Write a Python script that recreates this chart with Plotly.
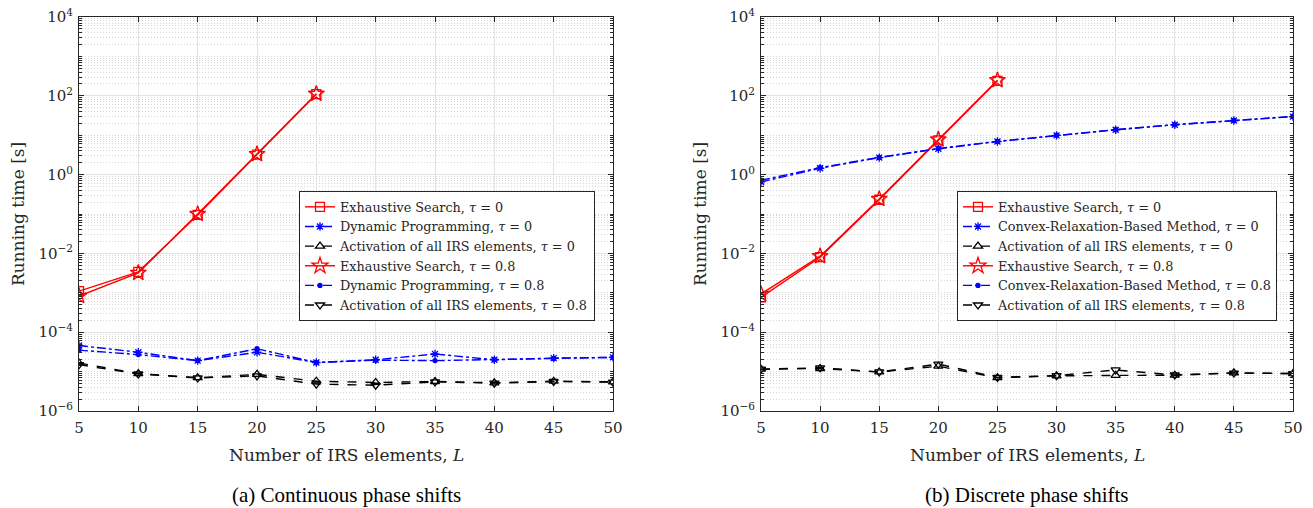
import plotly.graph_objects as go

L = [5, 10, 15, 20, 25, 30, 35, 40, 45, 50]
L_es = [5, 10, 15, 20, 25]

# (a) Continuous phase shifts
a_es_t0 = [1.1e-3, 3.4e-3, 0.095, 3.2, 110]
a_es_t08 = [8.3e-4, 3.2e-3, 0.10, 3.3, 112]
a_dp_t0 = [4.6e-5, 3.1e-5, 1.9e-5, 3.1e-5, 1.7e-5, 2.0e-5, 2.8e-5, 2.0e-5, 2.2e-5, 2.3e-5]
a_dp_t08 = [3.5e-5, 2.7e-5, 1.9e-5, 3.8e-5, 1.7e-5, 1.95e-5, 1.9e-5, 2.0e-5, 2.15e-5, 2.3e-5]
a_all_t0 = [1.65e-5, 8.9e-6, 7.0e-6, 8.5e-6, 5.7e-6, 5.3e-6, 5.6e-6, 5.2e-6, 5.7e-6, 5.5e-6]
a_all_t08 = [1.5e-5, 8.7e-6, 6.9e-6, 7.8e-6, 4.8e-6, 4.5e-6, 5.5e-6, 5.1e-6, 5.6e-6, 5.4e-6]

# (b) Discrete phase shifts
b_es_t0 = [7.7e-4, 8.0e-3, 0.23, 7.4, 240]
b_es_t08 = [9.3e-4, 8.5e-3, 0.24, 7.8, 248]
b_cr_t0 = [0.65, 1.45, 2.7, 4.5, 6.9, 9.9, 13.7, 18.4, 23.6, 29.7]
b_cr_t08 = [0.72, 1.5, 2.75, 4.6, 7.0, 10.0, 13.8, 18.5, 23.8, 30.0]
b_all_t0 = [1.15e-5, 1.2e-5, 9.8e-6, 1.37e-5, 7.0e-6, 7.8e-6, 8.0e-6, 8.1e-6, 9.3e-6, 8.9e-6]
b_all_t08 = [1.15e-5, 1.25e-5, 9.8e-6, 1.55e-5, 7.1e-6, 7.9e-6, 1.1e-5, 8.2e-6, 9.2e-6, 8.9e-6]

x_ticks = [5, 10, 15, 20, 25, 30, 35, 40, 45, 50]
y_major = [1e-6, 1e-4, 1e-2, 1e0, 1e2, 1e4]
y_major_text = ["10<sup>−6</sup>", "10<sup>−4</sup>", "10<sup>−2</sup>", "10<sup>0</sup>",
                "10<sup>2</sup>", "10<sup>4</sup>"]
y_minor = [k * 10.0 ** n for n in range(-6, 4) for k in range(1, 10)
           if not (k == 1 and n % 2 == 0)]

FONT = "DejaVu Serif"
CAPFONT = "Liberation Serif"
RED, BLUE, BLACK, AX = "#ff0000", "#0000ff", "#000000", "#262626"

fig = go.Figure()


def add(x, y, name, color, dash, symbol, size, xa, ya, leg, mlw=1.3):
    fig.add_trace(go.Scatter(
        x=x, y=y, name=name, mode="lines+markers",
        line=dict(color=color, dash=dash, width=1.4),
        marker=dict(symbol=symbol, size=size, color=color,
                    line=dict(color=color, width=mlw)),
        xaxis=xa, yaxis=ya, legend=leg))


t0 = ", <i>τ</i> = 0"
t8 = ", <i>τ</i> = 0.8"

add(L_es, a_es_t0, "Exhaustive Search" + t0, RED, "solid", "square-open", 9, "x", "y", "legend")
add(L, a_dp_t0, "Dynamic Programming" + t0, BLUE, "dashdot", "asterisk-open", 7, "x", "y", "legend")
add(L, a_all_t0, "Activation of all IRS elements" + t0, BLACK, "dash", "triangle-up-open", 8, "x", "y", "legend")
add(L_es, a_es_t08, "Exhaustive Search" + t8, RED, "solid", "star-open", 12, "x", "y", "legend")
add(L, a_dp_t08, "Dynamic Programming" + t8, BLUE, "dashdot", "circle", 4, "x", "y", "legend")
add(L, a_all_t08, "Activation of all IRS elements" + t8, BLACK, "dash", "triangle-down-open", 8, "x", "y", "legend")

add(L_es, b_es_t0, "Exhaustive Search" + t0, RED, "solid", "square-open", 9, "x2", "y2", "legend2")
add(L, b_cr_t0, "Convex-Relaxation-Based Method" + t0, BLUE, "dashdot", "asterisk-open", 7, "x2", "y2", "legend2")
add(L, b_all_t0, "Activation of all IRS elements" + t0, BLACK, "dash", "triangle-up-open", 8, "x2", "y2", "legend2")
add(L_es, b_es_t08, "Exhaustive Search" + t8, RED, "solid", "star-open", 12, "x2", "y2", "legend2")
add(L, b_cr_t08, "Convex-Relaxation-Based Method" + t8, BLUE, "dashdot", "circle", 4, "x2", "y2", "legend2")
add(L, b_all_t08, "Activation of all IRS elements" + t8, BLACK, "dash", "triangle-down-open", 8, "x2", "y2", "legend2")

W, H = 1313, 508
ydom = [1 - 411 / H, 1 - 17 / H]

xcommon = dict(range=[5, 50], tickvals=x_ticks, ticks="inside", ticklen=5, tickcolor=AX,
               showgrid=True, gridcolor="#e3e3e3", gridwidth=1,
               showline=True, linecolor=AX, linewidth=1, mirror="ticks",
               tickfont=dict(family=FONT, size=15, color=AX), ticklabelstandoff=3,
               automargin=False, zeroline=False)
ycommon = dict(type="log", range=[-6, 4], tickvals=y_major, ticktext=y_major_text,
               ticks="inside", ticklen=5, tickcolor=AX,
               showgrid=True, gridcolor="#e3e3e3", gridwidth=1,
               showline=True, linecolor=AX, linewidth=1, mirror="ticks",
               tickfont=dict(family=FONT, size=15, color=AX), ticklabelstandoff=2,
               minor=dict(tickvals=y_minor, ticks="inside", ticklen=3,
                          tickcolor=AX, showgrid=True,
                          gridcolor="#d6d6d6", griddash="1px,2px", gridwidth=1),
               automargin=False, zeroline=False)

leg = dict(xanchor="left", yanchor="top",
           bgcolor="white", bordercolor=AX, borderwidth=1,
           font=dict(family=FONT, size=12.8, color=AX),
           tracegroupgap=0, itemwidth=30)

fig.update_layout(
    width=W, height=H, margin=dict(l=0, r=0, t=0, b=0, autoexpand=False),
    paper_bgcolor="white", plot_bgcolor="white",
    xaxis=dict(domain=[79 / W, 613 / W], anchor="y", **xcommon),
    yaxis=dict(domain=ydom, anchor="x", **ycommon),
    xaxis2=dict(domain=[761 / W, 1293 / W], anchor="y2", **xcommon),
    yaxis2=dict(domain=ydom, anchor="x2", **ycommon),
    legend=dict(x=299 / W, y=1 - 191 / H, **leg),
    legend2=dict(x=957 / W, y=1 - 191 / H, **leg),
    showlegend=True,
)


def ann(text, x, y, size, angle=0, color=AX, family=FONT):
    fig.add_annotation(text=text, x=x / W, y=1 - y / H, xref="paper", yref="paper",
                       xanchor="center", yanchor="middle",
                       showarrow=False, textangle=angle,
                       font=dict(family=family, size=size, color=color))


ann("Running time [s]", 18, 214, 17, -90)
ann("Running time [s]", 700, 214, 17, -90)
ann("Number of IRS elements, <i>L</i>", (79 + 613) / 2, 455, 17)
ann("Number of IRS elements, <i>L</i>", (761 + 1293) / 2, 455, 17)
ann("(a) Continuous phase shifts", (79 + 613) / 2, 495, 21, color="#000000", family=CAPFONT)
ann("(b) Discrete phase shifts", (761 + 1293) / 2, 495, 21, color="#000000", family=CAPFONT)

fig.write_html("out.html")
